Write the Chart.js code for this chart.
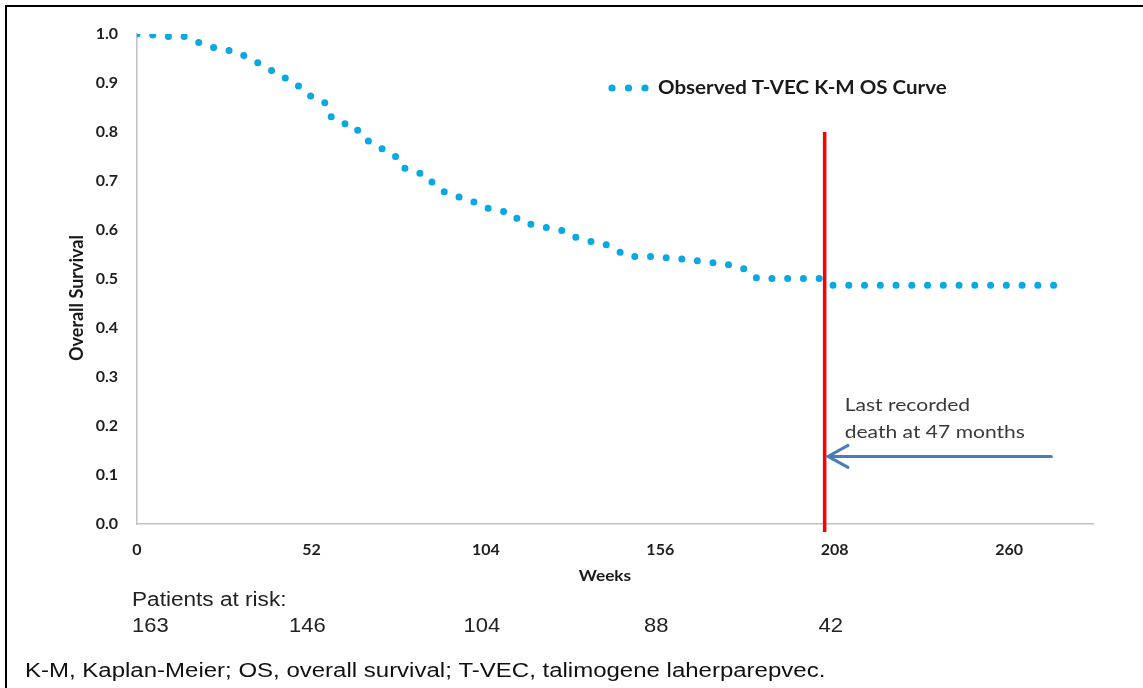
<!DOCTYPE html>
<html>
<head>
<meta charset="utf-8">
<script src="https://cdn.jsdelivr.net/npm/chart.js@4.4.0/dist/chart.umd.min.js"></script>
<style>
  html, body { margin: 0; padding: 0; background: #fff; }
  #wrap { position: relative; width: 1143px; height: 688px; overflow: hidden; }
  #frame { position: absolute; left: 5px; top: 5px; right: -10px; bottom: -10px; border-left: 2px solid #000; border-top: 2px solid #000; }
  #kmChart { position: absolute; left: 0; top: 0; }
</style>
</head>
<body>
<div id="wrap">
  <div id="frame"></div>
  <canvas id="kmChart" width="1143" height="688"></canvas>
</div>
<script>
// K-M overall survival (weeks / proportion alive)
const weeks = [0, 4.5, 9, 14, 17.6, 21, 25.4, 30, 33.4, 37, 40.3, 43.5, 47, 49.6, 52.8, 56.2,
  57.7, 60.8, 64.9, 67, 70.4, 73.5, 76.9, 78.7, 82.3, 86.3, 88.6, 91.8, 95.5, 99.5, 103, 107.2,
  111.7, 114.2, 118.6, 123, 127.4, 130.8, 134.6, 139, 142.6, 146.3, 150.8, 155.5, 160, 164.5,
  169, 173.4, 177.7, 181.8, 184.9, 189.4, 194.1, 198.8, 203.6, 207, 273.4];
const survival = [1.0, 0.998, 0.995, 0.995, 0.985, 0.975, 0.969, 0.963, 0.950, 0.938, 0.925, 0.912,
  0.902, 0.883, 0.869, 0.859, 0.832, 0.818, 0.814, 0.789, 0.776, 0.764, 0.752, 0.729, 0.720, 0.712,
  0.692, 0.677, 0.668, 0.661, 0.647, 0.640, 0.635, 0.617, 0.610, 0.604, 0.598, 0.585, 0.577, 0.573,
  0.560, 0.546, 0.546, 0.546, 0.541, 0.541, 0.534, 0.533, 0.527, 0.519, 0.501, 0.501, 0.501, 0.501,
  0.501, 0.487, 0.487];

// patients at risk under the x axis
const riskWeeks = [0, 52, 104, 156, 208];
const atRisk = [163, 146, 104, 88, 42];

// annotation
const lastDeathWeek = 205;          // 47 months
const arrowFromWeek = 272.6;
const arrowToWeek = 206;
const arrowLevel = 0.138;
const noteLines = ['Last recorded', 'death at 47 months'];

const curveColor = '#08a8e4';

// the source figure is a bit stretched sideways, so text gets a small x-scale
function wideText(ctx, text, x, y, sx) {
  ctx.save();
  ctx.translate(x, y);
  ctx.scale(sx, 1);
  ctx.fillText(text, 0, 0);
  ctx.restore();
}

// space the round dots so one sits on each end of the curve
const dotSpacing = {
  id: 'dotSpacing',
  beforeDatasetDraw(chart, args) {
    const el = args.meta.dataset;
    const pts = args.meta.data;
    let len = 0;
    for (let i = 1; i < pts.length; i++) {
      len += Math.hypot(pts[i].x - pts[i - 1].x, pts[i].y - pts[i - 1].y);
    }
    const n = Math.max(1, Math.round(len / 15.8));
    // a hair short so the last dot is not lost at the very end of the path
    el.options = Object.assign({}, el.options, { borderDash: [0, (len - 0.5) / n], borderDashOffset: 0 });
  }
};

// everything that is not a plain axis: legend, red line, arrow, titles, at-risk table
const extras = {
  id: 'extras',
  afterDatasetsDraw(chart) {
    const { ctx, chartArea } = chart;
    const x = chart.scales.x, y = chart.scales.y;
    ctx.save();

    // red vertical line at last recorded death
    const rx = x.getPixelForValue(lastDeathWeek);
    ctx.strokeStyle = '#ff0000';
    ctx.lineWidth = 3.5;
    ctx.beginPath();
    ctx.moveTo(rx, y.getPixelForValue(0.8));
    ctx.lineTo(rx, chartArea.bottom + 8);
    ctx.stroke();

    // blue arrow pointing at the red line
    const ay = y.getPixelForValue(arrowLevel);
    const tipX = x.getPixelForValue(arrowToWeek);
    ctx.strokeStyle = '#4a7ebb';
    ctx.lineWidth = 3;
    ctx.lineCap = 'round';
    ctx.beginPath();
    ctx.moveTo(x.getPixelForValue(arrowFromWeek), ay);
    ctx.lineTo(tipX + 1, ay);
    ctx.moveTo(tipX + 20, ay - 11);
    ctx.lineTo(tipX, ay);
    ctx.lineTo(tipX + 20, ay + 11);
    ctx.stroke();

    // note text
    ctx.fillStyle = '#3a3a3a';
    ctx.font = '18px Lato';
    ctx.textAlign = 'left';
    ctx.textBaseline = 'middle';
    wideText(ctx, noteLines[0], rx + 20, ay - 51, 1.17);
    wideText(ctx, noteLines[1], rx + 20, ay - 24, 1.17);

    // legend: three dots + label
    ctx.fillStyle = curveColor;
    [612, 628.5, 645].forEach(cx => {
      ctx.beginPath();
      ctx.arc(cx, 88, 3.6, 0, Math.PI * 2);
      ctx.fill();
    });
    ctx.fillStyle = '#1a1a1a';
    ctx.font = 'bold 18px Lato';
    wideText(ctx, chart.data.datasets[0].label, 658, 88, 1.14);

    // axis titles
    ctx.font = 'bold 15px Lato';
    ctx.textAlign = 'center';
    wideText(ctx, 'Weeks', 605, 576, 1.15);
    ctx.save();
    ctx.translate(77, 298);
    ctx.rotate(-Math.PI / 2);
    ctx.font = 'bold 18px Lato';
    ctx.fillText('Overall Survival', 0, 0);
    ctx.restore();

    // patients at risk
    ctx.fillStyle = '#222';
    ctx.font = '20px "Liberation Sans", Arial, sans-serif';
    ctx.textAlign = 'left';
    wideText(ctx, 'Patients at risk:', 132, 600, 1.13);
    atRisk.forEach((n, i) => {
      if (i === 0) {
        ctx.textAlign = 'left';
        wideText(ctx, String(n), 132, 626, 1.1);
      } else {
        ctx.textAlign = 'center';
        wideText(ctx, String(n), x.getPixelForValue(riskWeeks[i]) - 4, 626, 1.1);
      }
    });

    // footnote
    ctx.fillStyle = '#111';
    ctx.textAlign = 'left';
    wideText(ctx, 'K-M, Kaplan-Meier; OS, overall survival; T-VEC, talimogene laherparepvec.', 25, 671, 1.2);

    ctx.restore();
  }
};

const ctx = document.getElementById('kmChart').getContext('2d');
const tickFont = { family: 'Lato', weight: 'bold', size: 16 };

new Chart(ctx, {
  type: 'line',
  data: {
    datasets: [{
      label: 'Observed T-VEC K-M OS Curve',
      data: weeks.map((w, i) => ({ x: w, y: survival[i] })),
      borderColor: curveColor,
      borderWidth: 7,
      borderDash: [0, 15.8],
      borderCapStyle: 'round',
      pointRadius: 0,
      tension: 0,
      fill: false
    }]
  },
  options: {
    responsive: false,
    animation: false,
    events: [],
    layout: { padding: { left: 0, top: 34, right: 50, bottom: 124 } },
    plugins: {
      legend: { display: false },
      tooltip: { enabled: false }
    },
    scales: {
      x: {
        type: 'linear',
        min: 0,
        max: 285,
        grid: { display: false, drawTicks: false },
        border: { display: true, color: '#c0c0c0', width: 1.5 },
        ticks: { stepSize: 52, includeBounds: false, padding: 16, color: '#1e1e1e', font: tickFont, maxRotation: 0 },
        afterFit: s => { s.height = 40; }
      },
      y: {
        min: 0,
        max: 1,
        grid: { display: false, drawTicks: false },
        border: { display: true, color: '#c0c0c0', width: 1.5 },
        ticks: { stepSize: 0.1, padding: 19, color: '#1e1e1e', font: tickFont, callback: v => v.toFixed(1) },
        afterFit: s => { s.width = 137; }
      }
    }
  },
  plugins: [dotSpacing, extras]
});
</script>
</body>
</html>
